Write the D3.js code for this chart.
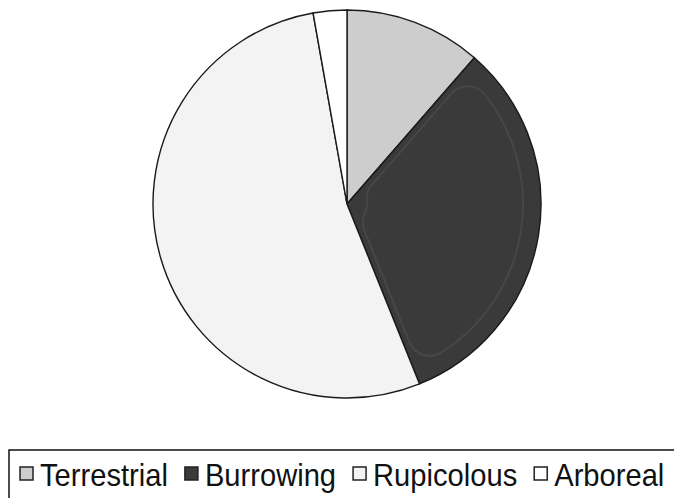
<!DOCTYPE html>
<html>
<head>
<meta charset="utf-8">
<script src="https://cdn.jsdelivr.net/npm/d3@7"></script>
<style>
  html, body { margin: 0; padding: 0; background: #fff; }
  svg { display: block; }
</style>
</head>
<body>
<div id="chart"></div>
<script>
const categories = ['Terrestrial', 'Burrowing', 'Rupicolous', 'Arboreal'];
const values = [11.4, 32.5, 53.3, 2.8];
const fills = ['#cdcdcd', '#3a3a3a', '#f3f3f3', '#ffffff'];

const width = 674, height = 498;
const cx = 347, cy = 204, radius = 194;

const svg = d3.select('#chart').append('svg')
  .attr('width', width)
  .attr('height', height);

const data = categories.map((c, i) => ({ label: c, value: values[i], fill: fills[i] }));

const pie = d3.pie().sort(null).value(d => d.value);
const arc = d3.arc().innerRadius(0).outerRadius(radius);

const g = svg.append('g').attr('transform', `translate(${cx},${cy})`);

g.selectAll('path.slice')
  .data(pie(data))
  .enter()
  .append('path')
    .attr('class', 'slice')
    .attr('d', arc)
    .attr('fill', d => d.data.fill)
    .attr('stroke', '#1a1a1a')
    .attr('stroke-width', 1.4);

// faint inner bevel on the dark slice (scanned look)
const bevel = d3.arc().innerRadius(20).outerRadius(radius - 18).cornerRadius(22).padAngle(0.07);
g.append('path')
  .datum(pie(data)[1])
  .attr('d', bevel)
  .attr('fill', 'none')
  .attr('stroke', '#474747')
  .attr('stroke-width', 2);

// legend
const legend = svg.append('g');
legend.append('rect')
  .attr('x', 9).attr('y', 450)
  .attr('width', 700).attr('height', 80)
  .attr('fill', '#fff')
  .attr('stroke', '#111')
  .attr('stroke-width', 1.5);

const sx = 0.94;
let x = 20;
const baseline = 486;
data.forEach(d => {
  legend.append('rect')
    .attr('x', x).attr('y', 467)
    .attr('width', 13).attr('height', 13)
    .attr('fill', d.fill)
    .attr('stroke', '#222')
    .attr('stroke-width', 1.5);
  const t = legend.append('text')
    .attr('transform', `translate(${x + 20},${baseline}) scale(${sx},1)`)
    .attr('font-family', 'Liberation Sans, Arial, sans-serif')
    .attr('font-size', 31)
    .attr('fill', '#111')
    .text(d.label);
  x += 20 + t.node().getComputedTextLength() * sx + 17;
});
</script>
</body>
</html>
